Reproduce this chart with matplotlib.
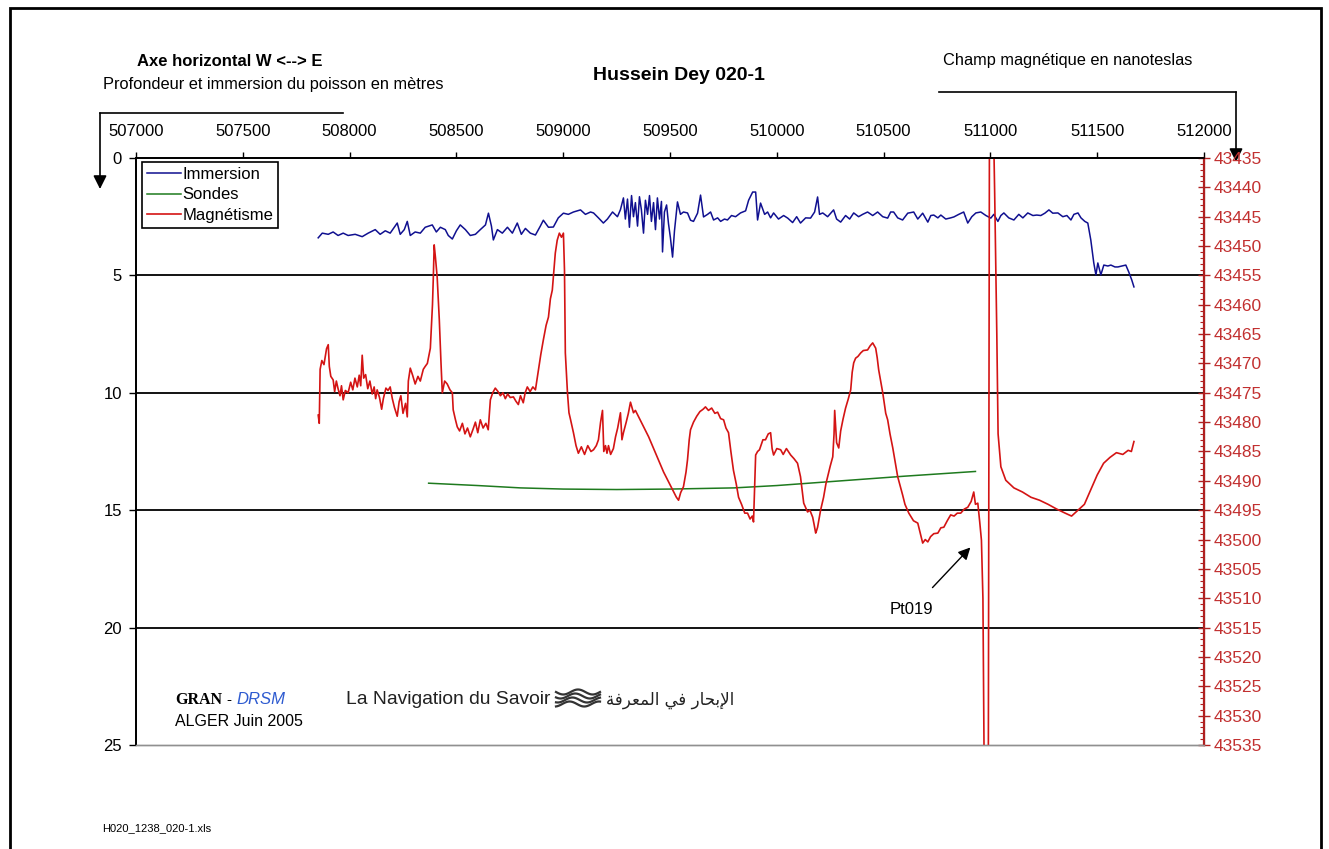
import numpy as np
import matplotlib
matplotlib.use("Agg")
import matplotlib.pyplot as plt
from matplotlib.lines import Line2D
from matplotlib.patches import Rectangle

plt.rcParams['font.family'] = ['Liberation Sans', 'DejaVu Sans']

# --- data --------------------------------------------------------------
# Immersion of the fish (m), left axis
immersion_x = [507853, 507872, 507900, 507923, 507946, 507970, 507993, 508026, 508059, 508087,
               508120, 508143, 508167, 508190, 508223, 508237, 508256, 508270, 508284, 508307,
               508331, 508354, 508387, 508406, 508425, 508448, 508462, 508481, 508500, 508518,
               508542, 508565, 508589, 508612, 508636, 508650, 508664, 508673, 508692, 508715,
               508739, 508762, 508785, 508804, 508823, 508846, 508870, 508893, 508907, 508931,
               508954, 508977, 509001, 509024, 509048, 509081, 509104, 509128, 509142, 509165,
               509188, 509207, 509231, 509254, 509268, 509282, 509291, 509301, 509310, 509320,
               509329, 509338, 509348, 509357, 509366, 509376, 509385, 509395, 509404, 509413,
               509423, 509432, 509441, 509451, 509460, 509465, 509474, 509484, 509493, 509502,
               509512, 509521, 509535, 509549, 509563, 509582, 509596, 509610, 509629, 509643,
               509657, 509676, 509690, 509704, 509723, 509737, 509755, 509769, 509788, 509807,
               509830, 509854, 509868, 509887, 509901, 509910, 509924, 509943, 509957, 509971,
               509985, 510008, 510032, 510051, 510074, 510093, 510111, 510135, 510158, 510177,
               510191, 510200, 510215, 510238, 510266, 510280, 510299, 510322, 510341, 510360,
               510383, 510402, 510425, 510449, 510472, 510496, 510519, 510533, 510547, 510566,
               510589, 510613, 510641, 510660, 510683, 510707, 510721, 510735, 510754, 510768,
               510791, 510814, 510829, 510852, 510875, 510894, 510913, 510932, 510955, 510979,
               511002, 511016, 511035, 511049, 511063, 511086, 511110, 511133, 511152, 511175,
               511199, 511217, 511236, 511255, 511274, 511292, 511316, 511339, 511358, 511377,
               511391, 511410, 511424, 511442, 511456, 511470, 511484, 511494, 511503, 511517,
               511531, 511550, 511564, 511583, 511597, 511616, 511634, 511648, 511662, 511672]
immersion_y = [3.40, 3.20, 3.25, 3.15, 3.30, 3.20, 3.30, 3.25, 3.35, 3.20,
               3.05, 3.25, 3.10, 3.20, 2.77, 3.25, 3.05, 2.70, 3.30, 3.15,
               3.20, 2.95, 2.85, 3.15, 2.95, 3.05, 3.30, 3.45, 3.10, 2.85,
               3.05, 3.30, 3.25, 3.05, 2.85, 2.35, 2.90, 3.49, 3.05, 3.20,
               2.95, 3.20, 2.77, 3.25, 3.00, 3.20, 3.28, 2.90, 2.65, 2.95,
               2.94, 2.55, 2.35, 2.40, 2.30, 2.21, 2.40, 2.30, 2.34, 2.55,
               2.77, 2.60, 2.30, 2.50, 2.20, 1.70, 2.60, 1.75, 2.95, 1.60,
               2.50, 1.90, 2.90, 1.65, 2.20, 3.20, 1.80, 2.40, 1.60, 2.70,
               1.90, 3.05, 1.70, 2.60, 1.85, 4.00, 2.30, 2.00, 2.80, 3.40,
               4.22, 3.10, 1.87, 2.40, 2.30, 2.34, 2.65, 2.70, 2.35, 1.58,
               2.51, 2.40, 2.30, 2.64, 2.55, 2.70, 2.60, 2.64, 2.45, 2.50,
               2.34, 2.25, 1.80, 1.45, 1.45, 2.64, 1.92, 2.40, 2.30, 2.55,
               2.34, 2.60, 2.45, 2.56, 2.75, 2.50, 2.77, 2.55, 2.56, 2.30,
               1.66, 2.40, 2.34, 2.50, 2.21, 2.60, 2.73, 2.45, 2.60, 2.34,
               2.50, 2.40, 2.30, 2.45, 2.30, 2.50, 2.56, 2.30, 2.30, 2.55,
               2.64, 2.35, 2.30, 2.60, 2.35, 2.73, 2.45, 2.43, 2.55, 2.43,
               2.60, 2.55, 2.51, 2.40, 2.30, 2.77, 2.50, 2.34, 2.30, 2.45,
               2.56, 2.40, 2.70, 2.45, 2.34, 2.55, 2.64, 2.40, 2.55, 2.34,
               2.45, 2.43, 2.45, 2.35, 2.21, 2.35, 2.34, 2.50, 2.45, 2.64,
               2.40, 2.34, 2.55, 2.70, 2.77, 3.49, 4.47, 4.98, 4.47, 4.98,
               4.56, 4.60, 4.56, 4.64, 4.64, 4.60, 4.56, 4.86, 5.20, 5.49]

# Sea floor depth from the sounder (m), left axis
sondes_x = [508370, 508600, 508800, 509000, 509250, 509500, 509800, 510000, 510300, 510600, 510930]
sondes_y = [13.85, 13.95, 14.05, 14.10, 14.12, 14.10, 14.05, 13.95, 13.75, 13.55, 13.35]

# Magnetic field (nT), right axis
magnet_x = [507853, 507858, 507862, 507870, 507880, 507892, 507900, 507905, 507912, 507923,
            507930, 507938, 507946, 507955, 507962, 507970, 507980, 507993, 508005, 508015,
            508025, 508036, 508045, 508052, 508059, 508066, 508075, 508085, 508095, 508106,
            508115, 508122, 508129, 508140, 508150, 508158, 508170, 508180, 508190, 508200,
            508210, 508223, 508232, 508240, 508250, 508262, 508270, 508275, 508284, 508295,
            508307, 508320, 508331, 508345, 508354, 508364, 508378, 508388, 508392, 508396,
            508402, 508410, 508420, 508428, 508434, 508445, 508457, 508470, 508481, 508485,
            508495, 508504, 508515, 508528, 508540, 508552, 508565, 508578, 508589, 508600,
            508612, 508625, 508638, 508649, 508659, 508670, 508682, 508695, 508706, 508718,
            508729, 508740, 508752, 508767, 508778, 508790, 508800, 508813, 508822, 508832,
            508845, 508858, 508870, 508884, 508895, 508907, 508920, 508931, 508940, 508949,
            508957, 508963, 508972, 508982, 508992, 509001, 509006, 509010, 509020, 509027,
            509034, 509048, 509060, 509071, 509085, 509100, 509115, 509130, 509142, 509155,
            509165, 509175, 509184, 509190, 509198, 509205, 509212, 509222, 509235, 509245,
            509255, 509268, 509275, 509282, 509295, 509305, 509315, 509322, 509329, 509338,
            509400, 509470, 509530, 509540, 509550, 509563, 509575, 509582, 509590, 509596,
            509610, 509625, 509640, 509655, 509666, 509680, 509695, 509710, 509723, 509737,
            509751, 509762, 509774, 509785, 509797, 509810, 509821, 509835, 509850, 509863,
            509875, 509885, 509891, 509896, 509901, 509910, 509919, 509935, 509947, 509960,
            509971, 509978, 509985, 510000, 510018, 510030, 510045, 510065, 510080, 510097,
            510111, 510126, 510144, 510155, 510168, 510175, 510182, 510186, 510191, 510205,
            510219, 510230, 510238, 510250, 510262, 510268, 510271, 510280, 510290, 510299,
            510310, 510322, 510335, 510346, 510353, 510360, 510369, 510380, 510393, 510405,
            510425, 510437, 510449, 510463, 510470, 510477, 510496, 510510, 510519, 510530,
            510543, 510555, 510566, 510589, 510600, 510618, 510640, 510660, 510672, 510683,
            510695, 510707, 510720, 510735, 510754, 510768, 510782, 510798, 510814, 510830,
            510845, 510861, 510878, 510894, 510910, 510922, 510930, 510941, 510950, 510958,
            510965, 510972, 510990, 510996, 511010, 511020, 511030, 511036, 511049, 511072,
            511110, 511150, 511190, 511230, 511270, 511310, 511350, 511380, 511410, 511440,
            511470, 511500, 511530, 511560, 511590, 511620, 511645, 511660, 511672]
magnet_y = [43478.8, 43480.2, 43471.0, 43469.5, 43470.2, 43467.5, 43466.8, 43470.5, 43472.2, 43472.8,
            43474.8, 43473.0, 43474.3, 43475.5, 43473.8, 43476.2, 43474.6, 43475.0, 43473.2, 43474.5,
            43472.5, 43474.0, 43472.0, 43473.8, 43468.6, 43472.5, 43471.9, 43474.3, 43473.0, 43475.2,
            43474.0, 43476.0, 43474.5, 43475.8, 43477.8, 43476.0, 43474.2, 43474.6, 43474.0, 43476.0,
            43477.5, 43479.0, 43476.5, 43475.5, 43478.5, 43476.8, 43479.1, 43473.0, 43470.8, 43472.0,
            43473.5, 43472.2, 43473.0, 43471.0, 43470.5, 43470.0, 43467.4, 43460.0, 43455.3, 43449.8,
            43452.0, 43455.3, 43462.6, 43470.0, 43475.0, 43473.0, 43473.5, 43474.5, 43475.0, 43477.9,
            43479.5, 43480.8, 43481.5, 43480.2, 43482.0, 43481.0, 43482.5, 43481.2, 43480.0, 43481.8,
            43479.6, 43481.0, 43480.2, 43481.3, 43476.2, 43475.0, 43474.2, 43474.8, 43475.5, 43475.0,
            43476.0, 43475.2, 43475.8, 43475.7, 43476.4, 43477.0, 43475.5, 43476.7, 43475.0, 43474.0,
            43474.8, 43474.0, 43474.5, 43471.1, 43468.5, 43466.0, 43463.5, 43462.1, 43459.0, 43457.5,
            43454.0, 43451.2, 43449.0, 43447.8, 43448.5, 43447.8, 43454.1, 43468.2, 43475.0, 43478.4,
            43479.5, 43481.8, 43484.0, 43485.3, 43484.2, 43485.5, 43484.0, 43485.0, 43484.7, 43484.0,
            43483.0, 43480.0, 43478.0, 43485.0, 43484.0, 43485.3, 43484.0, 43485.5, 43484.5, 43482.5,
            43481.0, 43478.4, 43483.0, 43481.8, 43480.0, 43478.5, 43476.6, 43477.5, 43478.4, 43478.0,
            43482.5, 43488.5, 43492.8, 43493.3, 43492.0, 43491.0, 43488.5, 43486.4, 43483.0, 43481.3,
            43480.0, 43479.0, 43478.2, 43477.8, 43477.4, 43478.0, 43477.6, 43478.5, 43478.3, 43479.4,
            43479.6, 43481.0, 43481.8, 43485.0, 43488.2, 43490.5, 43492.8, 43494.0, 43495.5, 43495.5,
            43496.5, 43496.0, 43497.0, 43491.0, 43485.6, 43485.0, 43484.7, 43483.0, 43483.0, 43482.0,
            43481.8, 43484.5, 43485.6, 43484.5, 43484.7, 43485.5, 43484.5, 43485.6, 43486.2, 43487.0,
            43489.3, 43493.8, 43495.3, 43495.0, 43496.2, 43497.5, 43498.9, 43498.5, 43497.9, 43495.0,
            43492.8, 43490.5, 43489.3, 43487.5, 43485.9, 43482.0, 43478.0, 43483.5, 43484.4, 43481.5,
            43479.5, 43477.6, 43476.0, 43474.5, 43471.5, 43469.9, 43469.1, 43468.8, 43468.2, 43467.8,
            43467.7, 43467.0, 43466.5, 43467.4, 43469.0, 43471.1, 43475.0, 43478.5, 43479.6, 43482.0,
            43484.4, 43487.0, 43489.3, 43492.4, 43494.0, 43495.5, 43496.8, 43497.2, 43499.0, 43500.6,
            43500.0, 43500.4, 43499.5, 43499.0, 43498.9, 43498.0, 43497.9, 43496.8, 43495.8, 43496.0,
            43495.5, 43495.5, 43494.8, 43494.5, 43493.5, 43491.9, 43494.0, 43493.8, 43497.0, 43500.1,
            43510.0, 43545.0, 43545.0, 43420.0, 43420.0, 43441.0, 43465.0, 43482.0, 43487.6, 43489.9,
            43491.2, 43491.9, 43492.8, 43493.3, 43494.0, 43494.8, 43495.5, 43496.0, 43495.0, 43494.0,
            43491.5, 43489.0, 43487.0, 43486.0, 43485.2, 43485.5, 43484.8, 43485.0, 43483.3]

x_ticks = [507000, 507500, 508000, 508500, 509000, 509500, 510000, 510500, 511000, 511500, 512000]
depth_ticks = [0, 5, 10, 15, 20, 25]
depth_grid = [5, 10, 15, 20]
nt_ticks = list(range(43435, 43536, 5))

W, H = 1329, 849


def fx(px):
    return px / W


def fy(py):
    return 1 - py / H


fig = plt.figure(figsize=(13.29, 8.49), dpi=100)
ax = fig.add_axes([fx(136), fy(745), fx(1204) - fx(136), fy(158) - fy(745)])
ax2 = ax.twinx()

blue = '#101090'
green = '#1E7A1E'
red = '#D41414'
axred = '#B02020'

for d in depth_grid:
    ax.axhline(d, color='black', lw=1.3, zorder=1)

l1, = ax.plot(immersion_x, immersion_y, color=blue, lw=1.1, zorder=2)
l2, = ax.plot(sondes_x, sondes_y, color=green, lw=1.1, zorder=2)
l3, = ax2.plot(magnet_x, magnet_y, color=red, lw=1.2)

ax.set_xlim(507000, 512000)
ax.set_ylim(25, 0)
ax2.set_ylim(43535, 43435)

ax.set_xticks(x_ticks)
ax.set_xticklabels([str(v) for v in x_ticks])
ax.xaxis.tick_top()
ax.tick_params(axis='x', direction='out', length=4, width=1, pad=10, labelsize=12)
ax.set_yticks(depth_ticks)
ax.tick_params(axis='y', direction='out', length=5, width=1, pad=5, labelsize=12)

ax2.set_yticks(nt_ticks)
ax2.set_yticks(np.arange(43435, 43536, 1), minor=True)
ax2.tick_params(axis='y', which='major', direction='inout', length=8, width=1,
                color=axred, labelcolor='#C23030', labelsize=12.5, pad=3)
ax2.tick_params(axis='y', which='minor', direction='in', length=3, width=0.8, color=axred)

for a in (ax, ax2):
    a.spines['bottom'].set_color('#909090')
    a.spines['bottom'].set_linewidth(1.0)
    a.spines['top'].set_linewidth(1.3)
    a.spines['left'].set_linewidth(1.3)
ax2.spines['right'].set_color(axred)
ax2.spines['right'].set_linewidth(1.6)

leg = ax2.legend([l1, l2, l3], ['Immersion', 'Sondes', 'Magnétisme'],
                 loc='upper left', bbox_to_anchor=(0.006, 0.994), borderaxespad=0,
                 fancybox=False, edgecolor='black', framealpha=1, fontsize=12,
                 handlelength=2.0, handletextpad=0.1, labelspacing=0.35, borderpad=0.3)
leg.get_frame().set_linewidth(1.2)

# Pt019 marker
ax.annotate('Pt019', xy=(510915, 16.5), xytext=(510630, 19.25), fontsize=12,
            ha='center', va='center',
            arrowprops=dict(arrowstyle='-|>', color='black', lw=1, shrinkA=12,
                            mutation_scale=18))

# Titles and headings
fig.text(fx(679), fy(75), 'Hussein Dey 020-1', ha='center', va='center',
         fontsize=14, fontweight='bold')
fig.text(fx(230), fy(62), 'Axe horizontal W <--> E', ha='center', va='center',
         fontsize=12, fontweight='bold')
fig.text(fx(273), fy(85), 'Profondeur et immersion du poisson en mètres',
         ha='center', va='center', fontsize=11.8)
fig.text(fx(1068), fy(61), 'Champ magnétique en nanoteslas', ha='center', va='center',
         fontsize=11.8)

# bracket arrows
fig.add_artist(Line2D([fx(100), fx(343)], [fy(113), fy(113)], color='black', lw=1.2))
fig.add_artist(Line2D([fx(939), fx(1236)], [fy(92), fy(92)], color='black', lw=1.2))
ax.annotate('', xy=(fx(100), fy(189)), xytext=(fx(100), fy(113)),
            xycoords='figure fraction', textcoords='figure fraction',
            arrowprops=dict(arrowstyle='-|>', color='black', lw=1.2,
                            shrinkA=0, shrinkB=0, mutation_scale=20))
ax.annotate('', xy=(fx(1236), fy(162)), xytext=(fx(1236), fy(92)),
            xycoords='figure fraction', textcoords='figure fraction',
            arrowprops=dict(arrowstyle='-|>', color='black', lw=1.2,
                            shrinkA=0, shrinkB=0, mutation_scale=20))

# credits
fig.text(fx(175), fy(700), 'GRAN', ha='left', va='center', fontsize=11.5,
         fontweight='bold', family=['Liberation Serif', 'DejaVu Serif'])
fig.text(fx(226), fy(700), '-', ha='left', va='center', fontsize=11)
fig.text(fx(236), fy(700), 'DRSM', ha='left', va='center', fontsize=12,
         style='italic', color='#2E5BD0')
fig.text(fx(175), fy(722), 'ALGER Juin 2005', ha='left', va='center', fontsize=11.5)
fig.text(fx(346), fy(700), 'La Navigation du Savoir', ha='left', va='center', fontsize=13.9,
         color='#222222')
# small wave logo
wave_t = np.linspace(0, 1, 40)
for k in range(4):
    fig.add_artist(Line2D(fx(556 + 44 * wave_t),
                          fy(692 + 4 * k + 2.5 * np.sin(2 * np.pi * 1.5 * wave_t + k * 0.6)),
                          color='#333333', lw=1.6))
arabic = ('\uFE94\uFED3\uFEAE\uFECC\uFEE4\uFEDF\uFE8D' + ' ' + '\uFEF2\uFED3' + ' '
          + '\uFEAD\uFE8E\uFEA4\uFE91\uFEF9\uFE8D')
fig.text(fx(606), fy(700), arabic, ha='left', va='center', fontsize=12,
         family=['DejaVu Sans'], color='#222222')

fig.text(fx(102), fy(828), 'H020_1238_020-1.xls', ha='left', va='center', fontsize=8)

# page frame
fig.add_artist(Rectangle((fx(10), fy(860)), fx(1321) - fx(10), fy(8) - fy(860),
                         fill=False, edgecolor='black', lw=2,
                         transform=fig.transFigure, clip_on=False))

fig.savefig('out.png', dpi=100)
